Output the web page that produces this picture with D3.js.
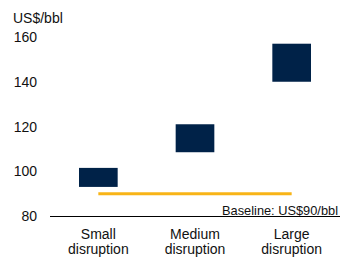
<!DOCTYPE html>
<html>
<head>
<meta charset="utf-8">
<script src="https://cdn.jsdelivr.net/npm/d3@7"></script>
<style>
  body { margin: 0; background: #fff; }
  svg text { font-family: "Liberation Sans", Arial, sans-serif; fill: #111; }
</style>
</head>
<body>
<div id="chart"></div>
<script>
// scenario ranges, US$/bbl
const categories = [["Small", "disruption"], ["Medium", "disruption"], ["Large", "disruption"]];
const lows = [93, 108.5, 140];
const highs = [101.5, 121, 157];
const baseline = 90;
const yTicks = [80, 100, 120, 140, 160];

const width = 342, height = 258;
const margin = {top: 37, right: 2, bottom: 42, left: 50};

const svg = d3.select("#chart").append("svg")
    .attr("width", width)
    .attr("height", height);

const x = d3.scaleBand()
    .domain(categories.map(function(c) { return c.join(" "); }))
    .range([margin.left, width - margin.right])
    .paddingInner(0.6)
    .paddingOuter(0.3);

const y = d3.scaleLinear()
    .domain([80, 160])
    .range([height - margin.bottom, margin.top]);

// y tick labels
svg.append("g").selectAll("text")
    .data(yTicks)
    .join("text")
    .attr("x", 37)
    .attr("y", function(d) { return y(d); })
    .attr("dy", "0.36em")
    .attr("text-anchor", "end")
    .style("font-size", "14px")
    .text(function(d) { return d; });

svg.append("text")
    .attr("x", 13)
    .attr("y", 23)
    .style("font-size", "14px")
    .text("US$/bbl");

// baseline line
svg.append("line")
    .attr("x1", x(categories[0].join(" ")) + x.bandwidth() / 2)
    .attr("x2", x(categories[2].join(" ")) + x.bandwidth() / 2)
    .attr("y1", y(baseline))
    .attr("y2", y(baseline))
    .attr("stroke", "#f8b417")
    .attr("stroke-width", 3);

// range boxes
svg.append("g").selectAll("rect")
    .data(categories)
    .join("rect")
    .attr("x", function(d) { return x(d.join(" ")); })
    .attr("width", x.bandwidth())
    .attr("y", function(d, i) { return y(highs[i]); })
    .attr("height", function(d, i) { return y(lows[i]) - y(highs[i]); })
    .attr("fill", "#002248");

// x axis line
svg.append("line")
    .attr("x1", margin.left)
    .attr("x2", width - 2)
    .attr("y1", y(80) + 0.5)
    .attr("y2", y(80) + 0.5)
    .attr("stroke", "#000")
    .attr("stroke-width", 1);

svg.append("text")
    .attr("x", 338)
    .attr("y", 215)
    .attr("text-anchor", "end")
    .style("font-size", "12.8px")
    .text("Baseline: US$" + baseline + "/bbl");

// category labels
const labels = svg.append("g").selectAll("text")
    .data(categories)
    .join("text")
    .attr("text-anchor", "middle")
    .attr("transform", function(d) {
        return "translate(" + (x(d.join(" ")) + x.bandwidth() / 2) + ",239)";
    })
    .style("font-size", "14px");
labels.selectAll("tspan")
    .data(function(d) { return d; })
    .join("tspan")
    .attr("x", 0)
    .attr("dy", function(d, i) { return i === 0 ? 0 : 15; })
    .text(function(d) { return d; });
</script>
</body>
</html>
